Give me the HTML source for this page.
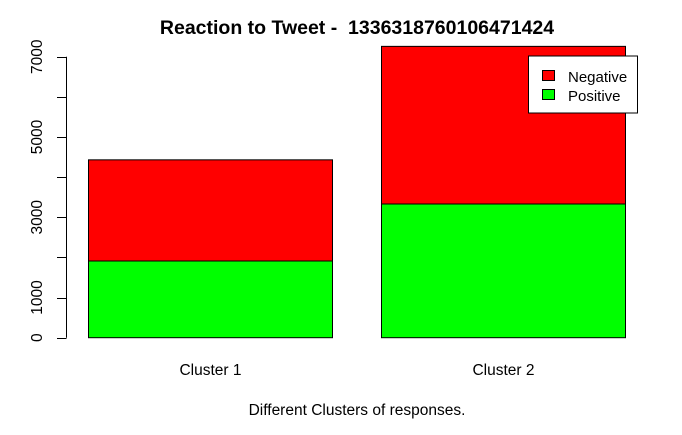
<!DOCTYPE html>
<html><head><meta charset="utf-8"><style>
body{margin:0;background:#fff;}
svg text{font-family:"Liberation Sans",Arial,sans-serif;fill:#000;}
</style></head><body>
<svg id="chart" width="682" height="430" xmlns="http://www.w3.org/2000/svg">
<text x="357" y="34" font-size="19.5" font-weight="bold" text-anchor="middle" style="white-space:pre">Reaction to Tweet -  1336318760106471424</text>
<text x="357" y="415" font-size="15.5" text-anchor="middle">Different Clusters of responses.</text>
<g id="axis"></g>
<g id="bars"></g>
<g>
<rect x="528.5" y="56" width="109" height="57" fill="#fff" stroke="#000" stroke-width="1"/>
<rect x="542.5" y="70.5" width="12" height="10" fill="#ff0000" stroke="#000"/>
<text x="568" y="82" font-size="15">Negative</text>
<rect x="542.5" y="89.5" width="12" height="10" fill="#00ff00" stroke="#000"/>
<text x="568" y="101" font-size="15">Positive</text>
</g>
</svg>
<script>
const categories = ["Cluster 1", "Cluster 2"];
const positive = [1911, 3331];
const negative = [2520, 3927];
const ticks = [0, 1000, 2000, 3000, 4000, 5000, 6000, 7000];
const tickLabels = ["0", "1000", "", "3000", "", "5000", "", "7000"];

const NS = "http://www.w3.org/2000/svg";
const y0 = 337.7, pxPer = 40.14 / 1000;
function yScale(v){ return y0 - v * pxPer; }
const barLeft = [88.5, 381.5], barW = 244;
function xScale(i){ return barLeft[0] + i * (barLeft[1] - barLeft[0]); }
function mk(tag, attrs){ const e = document.createElementNS(NS, tag); for (const k in attrs) e.setAttribute(k, attrs[k]); return e; }

const axis = document.getElementById('axis');
const line = mk('line', {x1:66.5, x2:66.5, y1:yScale(ticks[0]), y2:yScale(ticks[ticks.length-1]), stroke:'#000'});


axis.appendChild(line);
ticks.forEach((t, i) => {
  const y = Math.round(yScale(t)) + 0.5;
  const tk = mk('line', {x1:57, x2:66.5, y1:y, y2:y, stroke:'#000'});
  
  
  axis.appendChild(tk);
  if (tickLabels[i]) {
    const tx = mk('text', {x:0, y:0, 'font-size':15.5, 'text-anchor':'middle', transform:`translate(42,${yScale(t)}) rotate(-90)`});
    
    
    tx.textContent = tickLabels[i];
    axis.appendChild(tx);
  }
});

const bars = document.getElementById('bars');
categories.forEach((c, i) => {
  const x = xScale(i);
  const pTop = yScale(positive[i]);
  const nTop = yScale(positive[i] + negative[i]);
  const g = mk('rect', {x:x, y:pTop, width:barW, height:yScale(0)-pTop, fill:'#00ff00', stroke:'#000'});
  
  
  bars.appendChild(g);
  const r = mk('rect', {x:x, y:nTop, width:barW, height:pTop-nTop, fill:'#ff0000', stroke:'#000'});
  
  
  bars.appendChild(r);
  const lab = mk('text', {x:x+barW/2, y:375, 'font-size':15.5, 'text-anchor':'middle'});
  
  
  lab.textContent = c;
  bars.appendChild(lab);
});
</script>
</body></html>
